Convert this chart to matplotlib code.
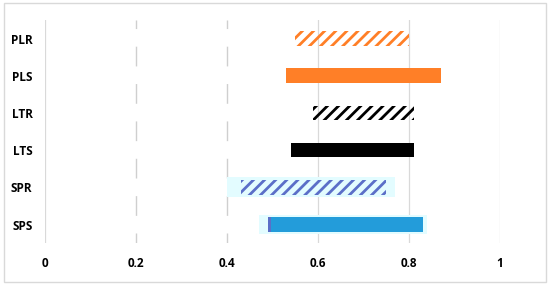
import matplotlib.pyplot as plt
from matplotlib.patches import Rectangle

plt.rcParams['font.family'] = ['Open Sans', 'DejaVu Sans']
plt.rcParams['hatch.linewidth'] = 2.0

# rangos por categoria (de abajo hacia arriba)
categorias = ['SPS', 'SPR', 'LTS', 'LTR', 'PLS', 'PLR']
inicio = [0.49, 0.43, 0.54, 0.59, 0.53, 0.55]
fin = [0.83, 0.75, 0.81, 0.81, 0.87, 0.80]
rayado = [False, True, False, True, False, True]
colores = ['#239CDA', '#5B6FC8', '#000000', '#000000', '#FF7F27', '#FF7F27']

# fondo celeste detras de SPS y SPR
fondo_inicio = [0.47, 0.40]
fondo_fin = [0.84, 0.77]

ticks_x = [0, 0.2, 0.4, 0.6, 0.8, 1]
etiquetas_x = ['0', '0.2', '0.4', '0.6', '0.8', '1']

fig = plt.figure(figsize=(5.5, 2.85), dpi=100)
ax = fig.add_axes([0.082, 0.147, 0.827, 0.783])

y = list(range(len(categorias)))

# lineas de la grilla (0.2 y 0.4 a trazos)
for t in ticks_x:
    if t in (0.2, 0.4):
        ax.axvline(t, color='#CFCFCF', lw=1.0, ls=(7.0, (14.2, 12.7)), zorder=0)
    else:
        ax.axvline(t, color='#D9D9D9', lw=0.9, zorder=0)

for i in range(len(fondo_inicio)):
    ax.barh(y[i], fondo_fin[i] - fondo_inicio[i], left=fondo_inicio[i],
            height=0.53, color='#E3FCFF', lw=0, zorder=1)

for i, cat in enumerate(categorias):
    ancho = fin[i] - inicio[i]
    if rayado[i]:
        ax.barh(y[i], ancho, left=inicio[i], height=0.39, facecolor='none',
                edgecolor=colores[i], hatch='///', lw=0, zorder=2)
    else:
        ax.barh(y[i], ancho, left=inicio[i], height=0.39, color=colores[i],
                lw=0, zorder=2)

# borde morado al inicio de SPS
ax.barh(y[0], 0.006, left=inicio[0], height=0.39, color='#5B6FC8', lw=0, zorder=3)

ax.set_xlim(0, 1)
ax.set_ylim(-0.5, 5.5)
ax.set_yticks(y)
ax.set_yticklabels(categorias, fontsize=8.5, fontweight='bold')
ax.set_xticks(ticks_x)
ax.set_xticklabels(etiquetas_x, fontsize=8.5, fontweight='bold')
ax.tick_params(axis='x', length=0, pad=10)
ax.tick_params(axis='y', length=0, pad=9)
for s in ax.spines.values():
    s.set_visible(False)

fig.patches.append(Rectangle((0.008, 0.012), 0.984, 0.976, transform=fig.transFigure,
                             fill=False, edgecolor='#D9D9D9', lw=1))

fig.savefig('out.png', dpi=100)
